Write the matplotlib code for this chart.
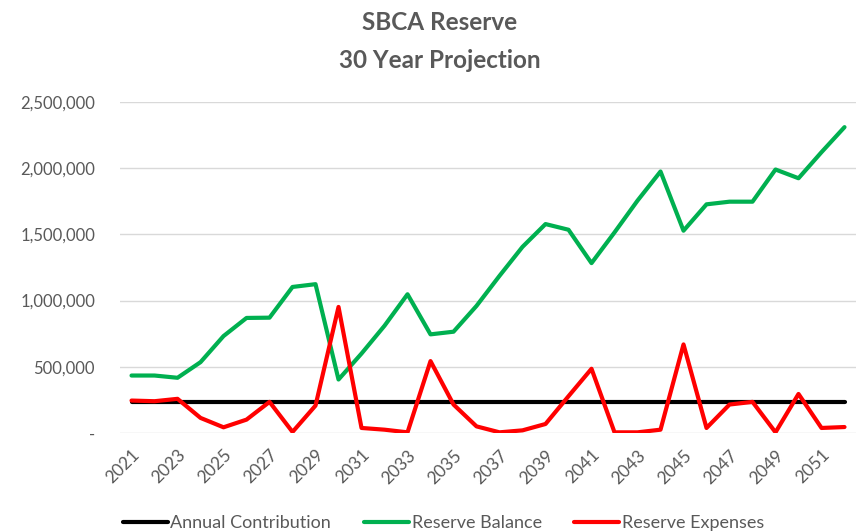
import numpy as np
import matplotlib.pyplot as plt
from matplotlib.ticker import FuncFormatter

plt.rcParams['font.family'] = ['Lato', 'DejaVu Sans']

years = list(range(2021, 2053))

annual_contribution = [232000] * len(years)

reserve_balance = [434000, 434000, 417000, 535000, 732000, 869000, 871000, 1103000,
                   1124000, 404000, 600000, 810000, 1048000, 745000, 765000, 960000,
                   1187000, 1406000, 1578000, 1535000, 1283000, 1515000, 1755000, 1975000,
                   1528000, 1727000, 1747000, 1747000, 1990000, 1924000, 2121000, 2310000]

reserve_expenses = [245000, 240000, 258000, 114000, 43000, 101000, 235000, 8000,
                    207000, 952000, 38000, 25000, 5000, 543000, 215000, 50000,
                    5000, 20000, 68000, 278000, 485000, 5000, 5000, 25000,
                    669000, 38000, 215000, 235000, 5000, 295000, 38000, 45000]

fig = plt.figure(figsize=(8.61, 5.32), dpi=100)
ax = fig.add_axes([0.1394, 0.1861, 0.8548, 0.6222])

x = np.arange(len(years))
ax.plot(x, annual_contribution, color='black', lw=3, label='Annual Contribution', solid_capstyle='round')
ax.plot(x, reserve_balance, color='#00B050', lw=3, label='Reserve Balance', solid_capstyle='round')
ax.plot(x, reserve_expenses, color='#FF0000', lw=3, label='Reserve Expenses', solid_capstyle='round')

ax.set_xlim(-0.5, len(years) - 0.5)
ax.set_ylim(0, 2500000)
ax.set_yticks(np.arange(0, 2500001, 500000))
ax.yaxis.set_major_formatter(FuncFormatter(lambda v, p: '-' if v == 0 else f'{int(v):,}'))
ax.set_xticks(x[::2])
ax.set_xticklabels([str(y) for y in years[::2]], rotation=45, ha='right', rotation_mode='anchor')

ax.grid(axis='y', color='#d9d9d9', lw=1)
ax.set_axisbelow(True)
for s in ax.spines.values():
    s.set_visible(False)
ax.tick_params(length=0, colors='#595959', labelsize=12)
ax.tick_params(axis='x', labelsize=12.5, pad=10)
ax.tick_params(axis='y', pad=18)

fig.text(0.511, 0.958, 'SBCA Reserve', ha='center', va='center', fontsize=17.5, fontweight='bold', color='#595959')
fig.text(0.511, 0.886, '30 Year Projection', ha='center', va='center', fontsize=17.5, fontweight='bold', color='#595959')

leg = fig.legend(loc='center', bbox_to_anchor=(0.515, 0.016), ncol=3, frameon=False,
                 fontsize=13, handlelength=2.5, handletextpad=0.15, columnspacing=1.8)
for t in leg.get_texts():
    t.set_color('#595959')

fig.savefig('out.png', dpi=100)
